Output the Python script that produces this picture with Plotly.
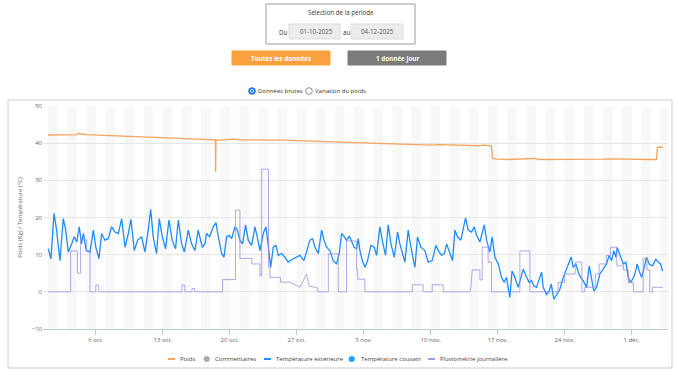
import pandas as pd
import plotly.graph_objects as go

START = pd.Timestamp("2025-10-01")

# ---------------- data (days since 2025-10-01 00:00) ----------------
poids_jours = [0, 1, 2, 3, 3.3, 3.6, 4, 5, 6, 7, 8, 9, 10, 11, 12, 13, 14, 15, 16, 17,
               17.5, 17.52, 17.56, 18, 19, 19.5, 20, 21, 22, 23, 24, 25, 26, 27, 28, 29,
               30, 31, 32, 33, 34, 35, 36, 37, 38, 39, 40, 41, 42, 43, 44, 45, 45.5, 46,
               46.35, 46.45, 47, 48, 49, 50, 51, 51.3, 52, 53, 54, 55, 56, 57, 58, 59,
               60, 61, 62, 63, 63.6, 63.7, 64.25]
poids_kg = [42.2, 42.3, 42.2, 42.3, 42.7, 42.4, 42.3, 42.2, 42.1, 42.0, 41.9, 41.8, 41.7,
            41.6, 41.5, 41.4, 41.3, 41.1, 41.0, 40.9, 40.9, 32.3, 40.8, 40.8, 40.9, 41.1,
            40.9, 41.0, 40.9, 40.8, 40.9, 40.8, 40.7, 40.6, 40.5, 40.5, 40.4, 40.3, 40.3,
            40.1, 39.9, 39.8, 39.7, 39.7, 39.6, 39.6, 39.5, 39.6, 39.5, 39.4, 39.3, 39.3,
            39.5, 39.4, 39.3, 35.9, 35.7, 35.6, 35.7, 35.6, 35.9, 35.6, 35.6, 35.5, 35.5,
            35.6, 35.5, 35.6, 35.7, 35.8, 35.7, 35.6, 35.5, 35.6, 35.6, 38.9, 38.9]

temp_jours = [0.03, 0.31, 0.63, 0.9, 1.25, 1.6, 1.85, 2.12, 2.47, 2.75, 3.0, 3.27, 3.5, 3.7,
              4.0, 4.39, 4.74, 5.0, 5.33, 5.6, 5.95, 6.3, 6.65, 7.0, 7.35, 7.7, 8.05, 8.4,
              8.67, 9.02, 9.37, 9.79, 10.13, 10.48, 10.73, 11.0, 11.35, 11.63, 11.95, 12.29,
              12.64, 12.98, 13.33, 13.62, 13.97, 14.25, 14.66, 15.01, 15.36, 15.7, 16.13,
              16.4, 16.58, 16.9, 17.27, 17.56, 17.8, 18.15, 18.39, 18.67, 18.95, 19.2, 19.54,
              19.8, 20.06, 20.34, 20.65, 20.93, 21.28, 21.63, 21.87, 22.15, 22.5, 22.78,
              23.02, 23.27, 23.55, 23.82, 24.07, 24.42, 24.77, 25.11, 25.64, 26.33, 26.75,
              27.03, 27.38, 27.66, 27.9, 28.25, 28.6, 28.85, 29.12, 29.46, 29.81, 30.16,
              30.44, 30.69, 30.94, 31.21, 31.49, 31.73, 32.0, 32.26, 32.43, 32.6, 32.85,
              33.13, 33.4, 33.75, 34.1, 34.34, 34.69, 34.93, 35.28, 35.56, 35.84, 36.19,
              36.54, 36.78, 37.3, 37.65, 37.93, 38.35, 38.62, 38.97, 39.39, 39.74, 40.16,
              40.54, 40.79, 41.14, 41.42, 41.66, 42.0, 42.28, 42.53, 42.8, 43.15, 43.4,
              43.64, 43.92, 44.27, 44.55, 44.79, 45.14, 45.59, 45.84, 46.18, 46.42, 46.71,
              47.06, 47.4, 47.68, 47.92, 48.27, 48.5, 48.8, 49.14, 49.38, 49.67, 50.02,
              50.3, 50.54, 50.78, 51.06, 51.34, 51.58, 51.76, 52.1, 52.38, 52.6, 52.87,
              53.15, 53.5, 53.85, 54.19, 54.47, 54.68, 54.89, 55.17, 55.42, 55.66, 55.94,
              56.29, 56.57, 56.81, 57.05, 57.33, 57.68, 58.03, 58.37, 58.65, 58.9, 59.14,
              59.35, 59.49, 59.77, 60.12, 60.4, 60.64, 60.88, 61.1, 61.34, 61.58, 61.79,
              62.03, 62.2, 62.55, 62.83, 63.18, 63.53, 63.77, 64.02, 64.23]
temp_ext = [11.6, 8.9, 21.1, 16.6, 8.4, 19.7, 16.6, 10.7, 12.9, 14.8, 13.4, 17.5, 12.9, 15.7,
            11.1, 10.7, 16.6, 12.0, 8.9, 15.7, 13.9, 14.3, 17.5, 16.1, 15.7, 19.7, 12.0, 15.7,
            19.5, 11.1, 13.9, 14.8, 10.7, 16.6, 22.2, 14.8, 10.3, 19.7, 14.8, 11.6, 19.3,
            13.9, 11.6, 19.3, 12.9, 10.7, 16.6, 12.9, 11.1, 16.6, 12.0, 12.9, 15.7, 14.8,
            17.5, 18.6, 14.8, 10.3, 9.3, 14.8, 15.2, 14.3, 17.5, 16.6, 13.9, 12.9, 18.0,
            13.9, 12.5, 17.5, 14.8, 11.1, 15.7, 17.5, 12.5, 6.6, 12.0, 12.5, 9.8, 10.3, 9.3,
            8.0, 8.9, 9.8, 8.4, 11.1, 13.9, 14.3, 12.0, 10.3, 16.6, 13.9, 12.0, 11.1, 8.4,
            7.5, 10.3, 15.7, 14.8, 13.9, 15.0, 13.4, 12.0, 11.6, 14.3, 11.1, 8.4, 6.6, 8.4,
            12.5, 12.0, 9.8, 17.5, 13.9, 9.8, 18.0, 12.9, 9.3, 16.1, 12.9, 8.0, 16.6, 12.0,
            6.6, 14.8, 12.0, 11.1, 8.0, 8.4, 12.5, 11.1, 9.8, 10.3, 12.9, 10.3, 8.4, 16.6,
            14.8, 13.9, 16.6, 19.9, 16.6, 16.1, 17.5, 15.2, 13.4, 18.0, 13.9, 10.7, 14.8,
            9.3, 7.5, 3.9, 2.5, 3.9, -1.5, 5.6, 3.9, 1.2, 3.4, 6.1, 3.9, 2.5, 3.0, 1.6, 1.2,
            3.4, 5.3, 1.2, -0.7, 0.2, 2.1, -2.0, -0.7, 0.7, 3.9, 6.1, 7.5, 9.4, 6.6, 7.5,
            5.3, 3.9, 3.0, 1.2, 7.0, 3.0, 0.2, 1.2, 4.8, 6.1, 7.5, 9.8, 8.4, 11.1, 9.3, 11.9,
            9.8, 7.5, 8.0, 3.9, 2.5, 3.4, 4.8, 7.5, 5.6, 3.9, 5.3, 9.3, 7.5, 7.0, 8.8, 8.0,
            7.5, 5.6]

pluie_jours = [0, 2.37, 2.37, 3.07, 3.07, 3.41, 3.41, 4.04, 4.04, 4.39, 4.39, 5.0, 5.0, 5.3,
               5.3, 14.0, 14.0, 14.3, 14.3, 15.05, 15.05, 15.33, 15.33, 18.25, 18.25, 19.6,
               19.6, 20.06, 20.06, 21.3, 21.3, 22.15, 22.15, 22.33, 22.33, 23.05, 23.05, 23.2,
               23.2, 24.3, 24.3, 25.3, 26.33, 27.03, 27.3, 28.07, 28.25, 29.3, 29.3, 30.34,
               30.34, 31.2, 31.2, 32.26, 32.26, 32.36, 32.36, 33.12, 33.12, 38.07, 38.07, 39.2,
               39.2, 40.16, 40.16, 41.3, 41.3, 44.1, 44.2, 44.34, 45.14, 45.14, 45.38, 45.38,
               46.0, 46.0, 46.36, 46.36, 49.32, 49.32, 50.37, 50.37, 53.3, 53.3, 54.0, 54.0,
               55.1, 55.1, 55.8, 55.8, 56.1, 56.1, 57.2, 57.2, 57.6, 57.6, 58.35, 58.35, 58.8,
               58.8, 59.45, 59.45, 60.15, 60.15, 60.65, 60.65, 61.2, 61.2, 62.2, 62.2, 62.6,
               62.6, 62.9, 62.9, 63.2, 63.2, 64.25]
pluie_mm = [0, 0, 11, 11, 5, 5, 14, 14, 11, 11, 0, 0, 1.8, 1.8,
            0, 0, 1.8, 1.8, 0, 0, 0.9, 0.9, 0, 0, 3.3, 3.3,
            22, 22, 9, 9, 7.5, 7.5, 4.3, 4.3, 33, 33, 6.6, 6.6,
            3.9, 3.9, 2.6, 2.6, 1.2, 4.8, 1.5, 1.2, 0, 0, 10.2, 10.2,
            0, 0, 13.7, 13.7, 5.9, 5.9, 3.4, 3.4, 0, 0, 1.9, 1.9,
            0, 0, 1.9, 1.9, 0, 0, 1.2, 5.9, 5.9, 3.2, 3.2, 12,
            12, 8, 8, 0, 0, 11, 11, 0, 0, 2.5, 2.5, 4.8,
            4.8, 8.0, 8.0, 0, 0, 1.2, 1.2, 4.8, 4.8, 7.5, 7.5, 9.8, 9.8,
            12, 12, 7, 7, 5.9, 5.9, 2.5, 2.5, 0, 0, 9, 9,
            5.9, 5.9, 0, 0, 1.2, 1.2]

x_tick_dates = ["2025-10-06", "2025-10-13", "2025-10-20", "2025-10-27", "2025-11-03",
                "2025-11-10", "2025-11-17", "2025-11-24", "2025-12-01"]
x_tick_labels = ["6 oct.", "13 oct.", "20 oct.", "27 oct.", "3 nov.", "10 nov.",
                 "17 nov.", "24 nov.", "1 déc."]
y_ticks = [-10, 0, 10, 20, 30, 40, 50]

legend_names = ["Poids", "Commentaires", "Température extérieure",
                "Température couvain", "Pluviométrie journalière"]

# ---------------- styles ----------------
C_POIDS = "#f7a35c"
C_COMM = "#aaaaaa"
C_TEXT = "#1e8cfa"
C_COUV = "#1aa3ff"
C_PLUIE = "rgba(150,142,222,0.75)"
FONT = "Open Sans"


def to_time(days):
    return [START + pd.Timedelta(days=d) for d in days]


W, H = 679, 376
ML, MR, MT, MB = 43, 11, 106, 47
PW, PH = W - ML - MR, H - MT - MB


def px(x):
    return (x - ML) / PW


def py(y):
    return (H - MB - y) / PH


fig = go.Figure()
fig.add_trace(go.Scatter(x=to_time(poids_jours), y=poids_kg, mode="lines", name=legend_names[0],
                         line=dict(color=C_POIDS, width=1.3), showlegend=False))
fig.add_trace(go.Scatter(x=[], y=[], mode="markers", name=legend_names[1],
                         marker=dict(color=C_COMM), showlegend=False))
fig.add_trace(go.Scatter(x=to_time(temp_jours), y=temp_ext, mode="lines", name=legend_names[2],
                         line=dict(color=C_TEXT, width=1.3), showlegend=False))
fig.add_trace(go.Scatter(x=[], y=[], mode="lines+markers", name=legend_names[3],
                         line=dict(color=C_COUV), showlegend=False))
fig.add_trace(go.Scatter(x=to_time(pluie_jours), y=pluie_mm, mode="lines", name=legend_names[4],
                         line=dict(color=C_PLUIE, width=1), showlegend=False))

shapes = []
# alternating day bands
for k in range(0, 66, 2):
    shapes.append(dict(type="rect", xref="x", yref="paper",
                       x0=START + pd.Timedelta(days=k), x1=START + pd.Timedelta(days=k + 1),
                       y0=0, y1=1, fillcolor="#f8f8f8", line=dict(width=0), layer="below"))


def rect(x0, y0, x1, y1, fill="rgba(0,0,0,0)", line="#999", lw=1):
    shapes.append(dict(type="rect", xref="paper", yref="paper",
                       x0=px(x0), x1=px(x1), y0=py(y1), y1=py(y0),
                       fillcolor=fill, line=dict(color=line, width=lw)))


def circle(cx, cy, r, fill, line, lw=1):
    shapes.append(dict(type="circle", xref="paper", yref="paper",
                       x0=px(cx - r), x1=px(cx + r), y0=py(cy + r), y1=py(cy - r),
                       fillcolor=fill, line=dict(color=line, width=lw)))


def hline(x0, x1, y, color, lw=2):
    shapes.append(dict(type="line", xref="paper", yref="paper",
                       x0=px(x0), x1=px(x1), y0=py(y), y1=py(y),
                       line=dict(color=color, width=lw)))


# chart panel
rect(8, 100, 672, 368, line="#cccccc", lw=1)
# period selection box
rect(266, 4, 415, 44, line="#9a9a9a", lw=1)
rect(289, 24, 340, 39, fill="#ececec", line="#dddddd", lw=1)
rect(351, 24, 403, 39, fill="#ececec", line="#dddddd", lw=1)
# buttons
rect(232, 51, 330, 65, fill="#f9a13e", line="#f9a13e", lw=1)
rect(348, 51, 446, 65, fill="#7b7b7b", line="#7b7b7b", lw=1)
# radios
circle(252, 91, 3.3, "#1a73e8", "#1a73e8", 1)
circle(252, 91, 1.6, "#1a73e8", "white", 0.8)
circle(309, 91, 3.3, "white", "#767676", 0.8)
# legend symbols
hline(168, 175, 359, C_POIDS, 2)
circle(206.7, 359, 2.8, C_COMM, C_COMM, 0.5)
hline(264, 271, 359, C_TEXT, 2)
circle(351.7, 359, 2.8, C_COUV, C_COUV, 0.5)
hline(428, 435, 359, "#a39ee2", 2)

ann = []


def text(x, y, s, size=6, color="#333333", anchor="center"):
    ann.append(dict(xref="paper", yref="paper", x=px(x), y=py(y), text=s, showarrow=False,
                    xanchor=anchor, yanchor="middle", font=dict(size=size, color=color, family=FONT)))


text(341, 12.5, "Sélection de la période", 6.2, "#333333")
text(283, 32.5, "Du", 6.2, "#333333")
text(316, 31.5, "01-10-2025", 6.2, "#555555")
text(346, 32.5, "au", 6.2, "#333333")
text(377, 31.5, "04-12-2025", 6.2, "#555555")
text(281, 58, "<b>Toutes les données</b>", 6.3, "white")
text(397, 58, "<b>1 donnée jour</b>", 6.3, "white")
text(256, 91, "Données brutes", 6, "#333333", "left")
text(312.5, 91, "Variation du poids", 6, "#333333", "left")
leg_x = [178, 212.5, 274, 359, 438]
for lx, name in zip(leg_x, legend_names):
    text(lx, 359, name, 6, "#444444", "left")

fig.update_layout(
    width=W, height=H, margin=dict(l=ML, r=MR, t=MT, b=MB, pad=0),
    paper_bgcolor="white", plot_bgcolor="white",
    font=dict(family=FONT, size=6, color="#666666"),
    shapes=shapes, annotations=ann, showlegend=False,
    xaxis=dict(type="date",
               range=[START - pd.Timedelta(hours=12.5), START + pd.Timedelta(days=64.8)],
               tickvals=pd.to_datetime(x_tick_dates), ticktext=x_tick_labels,
               ticks="outside", ticklen=5, tickcolor="#c0c8d8", tickwidth=1,
               showline=True, linecolor="#c0c8d8", linewidth=1,
               showgrid=False, zeroline=False,
               tickfont=dict(size=6, color="#666666", family=FONT)),
    yaxis=dict(range=[-10, 50], tickvals=y_ticks, showgrid=True, gridcolor="#e6e6e6",
               gridwidth=1, zeroline=False, showline=False, ticks="",
               tickfont=dict(size=6, color="#666666", family=FONT),
               title=dict(text="Poids (Kg) / Température (°C)", standoff=8,
                          font=dict(size=6, color="#666666", family=FONT))),
)

fig.write_html("out.html", config={"displayModeBar": False},
               post_script="document.body.style.margin='0';")
